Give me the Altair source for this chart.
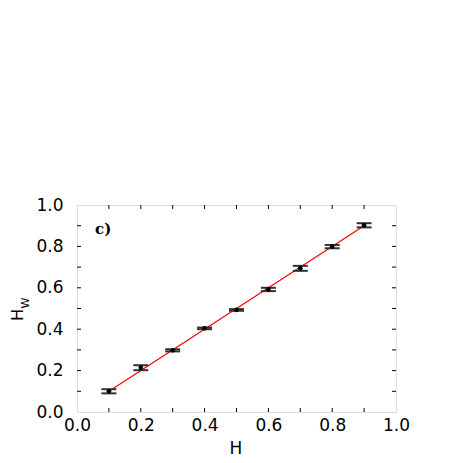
import altair as alt
import pandas as pd

H = [0.1, 0.2, 0.3, 0.4, 0.5, 0.6, 0.7, 0.8, 0.9]
Hw = [0.100, 0.214, 0.298, 0.404, 0.493, 0.592, 0.694, 0.799, 0.902]
err = [0.010, 0.012, 0.005, 0.004, 0.004, 0.008, 0.012, 0.008, 0.010]
fit_x = [0.1, 0.9]
fit_y = [0.1, 0.9]
label_ticks = [0.0, 0.2, 0.4, 0.6, 0.8, 1.0]
minor_ticks = [0.1, 0.2, 0.3, 0.4, 0.5, 0.6, 0.7, 0.8, 0.9]

W, Hh = 319, 207
FONT = "DejaVu Sans"

df = pd.DataFrame({"H": H, "Hw": Hw,
                   "lo": [v - e for v, e in zip(Hw, err)],
                   "hi": [v + e for v, e in zip(Hw, err)]})
fit = pd.DataFrame({"H": fit_x, "Hw": fit_y})
tk = pd.DataFrame({"t": minor_ticks})

xs = alt.Scale(domain=[0, 1], nice=False, zero=False)
ys = alt.Scale(domain=[0, 1], nice=False, zero=False)

xax = alt.Axis(values=label_ticks, format=".1f", ticks=False, domain=False, grid=False,
               labelFont=FONT, labelFontSize=17, labelColor="black", labelPadding=5,
               title=None, labelFlush=False)
yax = alt.Axis(values=label_ticks, format=".1f", ticks=False, domain=False, grid=False,
               labelFont=FONT, labelFontSize=17, labelColor="black", labelPadding=14,
               title=None)

base = alt.Chart(df)

line = alt.Chart(fit).mark_line(color="red", strokeWidth=1.2).encode(
    x=alt.X("H:Q", scale=xs, axis=xax),
    y=alt.Y("Hw:Q", scale=ys, axis=yax),
)

vrule = base.mark_rule(color="black", strokeWidth=1.5).encode(
    x=alt.X("H:Q", scale=xs),
    y=alt.Y("lo:Q", scale=ys),
    y2="hi:Q",
)
cap_lo = base.mark_tick(orient="horizontal", size=15, thickness=2, color="#333333", opacity=1).encode(
    x=alt.X("H:Q", scale=xs),
    y=alt.Y("lo:Q", scale=ys),
)
cap_hi = base.mark_tick(orient="horizontal", size=15, thickness=2, color="#333333", opacity=1).encode(
    x=alt.X("H:Q", scale=xs),
    y=alt.Y("hi:Q", scale=ys),
)

pts = base.mark_circle(color="black", size=22, opacity=1).encode(
    x=alt.X("H:Q", scale=xs),
    y=alt.Y("Hw:Q", scale=ys),
)

tick_len = 4
bottom = alt.Chart(tk).mark_rule(color="black").encode(
    x=alt.X("t:Q", scale=xs), y=alt.value(Hh), y2=alt.value(Hh - tick_len))
top = alt.Chart(tk).mark_rule(color="black").encode(
    x=alt.X("t:Q", scale=xs), y=alt.value(0), y2=alt.value(tick_len))
left = alt.Chart(tk).mark_rule(color="black").encode(
    y=alt.Y("t:Q", scale=ys), x=alt.value(0), x2=alt.value(tick_len))
right = alt.Chart(tk).mark_rule(color="black").encode(
    y=alt.Y("t:Q", scale=ys), x=alt.value(W), x2=alt.value(W - tick_len))

txt = pd.DataFrame({"s": ["c)"]})
clabel = alt.Chart(txt).mark_text(font="DejaVu Serif", fontWeight="bold", fontSize=15,
                                  align="left", baseline="alphabetic", color="black").encode(
    text="s:N", x=alt.value(18), y=alt.value(29))

xt = alt.Chart(pd.DataFrame({"s": ["H"]})).mark_text(font=FONT, fontSize=17, align="center",
                                                     baseline="middle", color="black").encode(
    text="s:N", x=alt.value(159), y=alt.value(244))

yt = alt.Chart(pd.DataFrame({"s": ["H"]})).mark_text(font=FONT, fontSize=16, align="center",
                                                     baseline="middle", angle=270,
                                                     color="black").encode(
    text="s:N", x=alt.value(-59), y=alt.value(110))
yt_sub = alt.Chart(pd.DataFrame({"s": ["W"]})).mark_text(font=FONT, fontSize=11, align="center",
                                                         baseline="middle", angle=270,
                                                         color="black").encode(
    text="s:N", x=alt.value(-51), y=alt.value(98))

chart = alt.layer(line, vrule, cap_lo, cap_hi, pts, bottom, top, left, right,
                  clabel, xt, yt, yt_sub).properties(
    width=W, height=Hh,
    autosize=alt.AutoSizeParams(type="none"),
    padding={"left": 69, "top": 197, "right": 50, "bottom": 45},
).configure_view(stroke="black", strokeWidth=1).configure(background="white")

chart.save("out.html", embed_options={"renderer": "svg", "actions": False})
